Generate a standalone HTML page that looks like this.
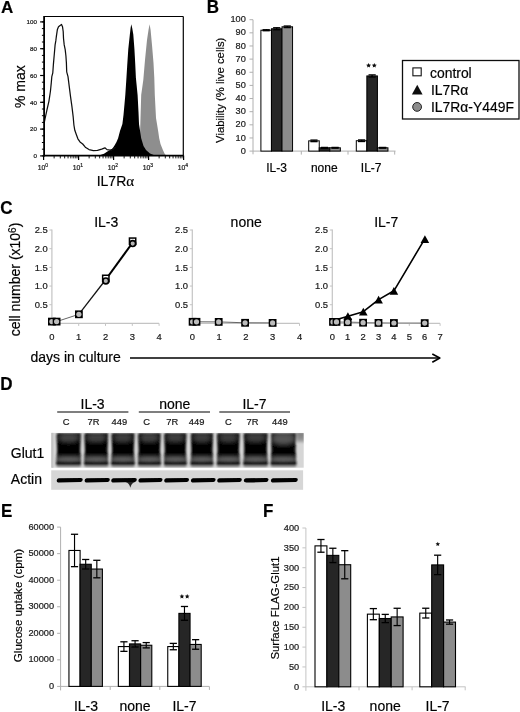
<!DOCTYPE html>
<html><head><meta charset="utf-8"><style>
html,body{margin:0;padding:0;background:#fff;}
body{width:520px;height:712px;overflow:hidden;}
svg{display:block;font-family:"Liberation Sans", sans-serif;}
text{stroke:#111;stroke-width:0.2px;stroke-linejoin:round;}
</style></head><body>
<svg width="520" height="712" viewBox="0 0 520 712">
<defs><filter id="gb" x="0" y="0" width="100%" height="100%"><feGaussianBlur stdDeviation="0.35"/></filter></defs>
<g filter="url(#gb)">
<rect width="520" height="712" fill="#fff"/>
<text x="0.90" y="13.00" font-size="17" text-anchor="start" font-weight="bold" fill="#000" >A</text>
<polygon points="128.00,155.60 136.00,152.00 139.00,146.00 140.00,135.00 140.50,118.00 141.20,95.00 143.30,80.00 145.00,60.00 147.00,40.00 148.50,30.00 149.60,24.20 150.60,30.00 152.00,45.00 153.50,63.00 154.30,78.00 154.80,95.00 156.00,118.00 157.00,124.00 158.30,132.00 159.20,138.30 160.50,144.00 162.80,149.80 164.50,153.50 166.00,155.60" fill="#8e8e8e" stroke="none" stroke-width="1"/>
<polygon points="99.00,155.60 101.00,154.80 104.00,153.80 107.30,151.50 110.00,150.20 112.50,148.50 114.50,145.50 116.50,142.00 118.10,138.30 120.00,131.00 122.40,123.90 123.50,115.00 124.50,104.00 125.30,95.00 126.30,80.00 127.30,64.00 128.30,49.00 129.80,35.00 130.60,28.00 131.30,24.20 132.20,28.00 133.30,34.40 134.40,48.80 135.20,63.30 135.90,77.70 137.60,95.00 138.50,112.00 139.00,123.90 141.20,138.30 143.50,146.00 146.00,150.00 150.00,153.50 155.00,155.60" fill="#000" stroke="none" stroke-width="1"/>
<polyline points="44.30,122.50 45.00,119.00 46.90,110.10 48.90,101.30 50.40,91.50 51.30,82.60 51.80,76.70 52.80,72.80 53.40,64.40 54.40,53.00 55.10,44.90 55.80,40.90 56.40,36.20 57.40,29.40 58.50,26.70 60.10,25.40 61.50,24.40 62.50,26.70 63.20,31.50 63.50,38.20 64.20,44.90 65.20,49.60 65.90,55.70 66.40,63.00 66.70,71.80 68.00,76.70 69.00,84.60 70.50,96.40 72.00,107.20 73.20,117.00 73.90,125.00 74.80,130.30 76.30,134.50 77.90,138.80 80.00,141.90 82.70,144.00 85.30,147.20 89.00,149.60 93.30,150.60 97.50,150.40 101.70,149.10 104.90,147.80 107.00,149.60 110.20,150.20 112.30,149.60 116.00,147.00" fill="none" stroke="#111" stroke-width="1.25" stroke-linejoin="round" />
<line x1="44.10" y1="16.50" x2="183.30" y2="16.50" stroke="#000" stroke-width="1.2" />
<line x1="183.30" y1="16.50" x2="183.30" y2="155.60" stroke="#000" stroke-width="1.2" />
<line x1="44.10" y1="15.90" x2="44.10" y2="156.60" stroke="#000" stroke-width="1.8" />
<line x1="43.20" y1="155.60" x2="183.90" y2="155.60" stroke="#000" stroke-width="1.8" />
<line x1="40.10" y1="155.90" x2="44.10" y2="155.90" stroke="#000" stroke-width="1.2" />
<text x="36.90" y="158.10" font-size="6.2" text-anchor="end" font-weight="normal" fill="#111" >0</text>
<line x1="40.10" y1="129.10" x2="44.10" y2="129.10" stroke="#000" stroke-width="1.2" />
<text x="36.90" y="131.30" font-size="6.2" text-anchor="end" font-weight="normal" fill="#111" >20</text>
<line x1="40.10" y1="102.30" x2="44.10" y2="102.30" stroke="#000" stroke-width="1.2" />
<text x="36.90" y="104.50" font-size="6.2" text-anchor="end" font-weight="normal" fill="#111" >40</text>
<line x1="40.10" y1="75.50" x2="44.10" y2="75.50" stroke="#000" stroke-width="1.2" />
<text x="36.90" y="77.70" font-size="6.2" text-anchor="end" font-weight="normal" fill="#111" >60</text>
<line x1="40.10" y1="48.70" x2="44.10" y2="48.70" stroke="#000" stroke-width="1.2" />
<text x="36.90" y="50.90" font-size="6.2" text-anchor="end" font-weight="normal" fill="#111" >80</text>
<line x1="40.10" y1="21.90" x2="44.10" y2="21.90" stroke="#000" stroke-width="1.2" />
<text x="36.90" y="24.10" font-size="6.2" text-anchor="end" font-weight="normal" fill="#111" >100</text>
<line x1="41.90" y1="155.90" x2="44.10" y2="155.90" stroke="#000" stroke-width="1.0" />
<line x1="41.90" y1="149.20" x2="44.10" y2="149.20" stroke="#000" stroke-width="1.0" />
<line x1="41.90" y1="142.50" x2="44.10" y2="142.50" stroke="#000" stroke-width="1.0" />
<line x1="41.90" y1="135.80" x2="44.10" y2="135.80" stroke="#000" stroke-width="1.0" />
<line x1="41.90" y1="129.10" x2="44.10" y2="129.10" stroke="#000" stroke-width="1.0" />
<line x1="41.90" y1="122.40" x2="44.10" y2="122.40" stroke="#000" stroke-width="1.0" />
<line x1="41.90" y1="115.70" x2="44.10" y2="115.70" stroke="#000" stroke-width="1.0" />
<line x1="41.90" y1="109.00" x2="44.10" y2="109.00" stroke="#000" stroke-width="1.0" />
<line x1="41.90" y1="102.30" x2="44.10" y2="102.30" stroke="#000" stroke-width="1.0" />
<line x1="41.90" y1="95.60" x2="44.10" y2="95.60" stroke="#000" stroke-width="1.0" />
<line x1="41.90" y1="88.90" x2="44.10" y2="88.90" stroke="#000" stroke-width="1.0" />
<line x1="41.90" y1="82.20" x2="44.10" y2="82.20" stroke="#000" stroke-width="1.0" />
<line x1="41.90" y1="75.50" x2="44.10" y2="75.50" stroke="#000" stroke-width="1.0" />
<line x1="41.90" y1="68.80" x2="44.10" y2="68.80" stroke="#000" stroke-width="1.0" />
<line x1="41.90" y1="62.10" x2="44.10" y2="62.10" stroke="#000" stroke-width="1.0" />
<line x1="41.90" y1="55.40" x2="44.10" y2="55.40" stroke="#000" stroke-width="1.0" />
<line x1="41.90" y1="48.70" x2="44.10" y2="48.70" stroke="#000" stroke-width="1.0" />
<line x1="41.90" y1="42.00" x2="44.10" y2="42.00" stroke="#000" stroke-width="1.0" />
<line x1="41.90" y1="35.30" x2="44.10" y2="35.30" stroke="#000" stroke-width="1.0" />
<line x1="41.90" y1="28.60" x2="44.10" y2="28.60" stroke="#000" stroke-width="1.0" />
<line x1="41.90" y1="21.90" x2="44.10" y2="21.90" stroke="#000" stroke-width="1.0" />
<line x1="43.60" y1="155.60" x2="43.60" y2="160.10" stroke="#000" stroke-width="1.2" />
<text x="42.90" y="169.50" font-size="6.8" text-anchor="middle" fill="#222">10<tspan dy="-2.8" font-size="5">0</tspan></text>
<line x1="78.60" y1="155.60" x2="78.60" y2="160.10" stroke="#000" stroke-width="1.2" />
<text x="77.90" y="169.50" font-size="6.8" text-anchor="middle" fill="#222">10<tspan dy="-2.8" font-size="5">1</tspan></text>
<line x1="113.60" y1="155.60" x2="113.60" y2="160.10" stroke="#000" stroke-width="1.2" />
<text x="112.90" y="169.50" font-size="6.8" text-anchor="middle" fill="#222">10<tspan dy="-2.8" font-size="5">2</tspan></text>
<line x1="148.60" y1="155.60" x2="148.60" y2="160.10" stroke="#000" stroke-width="1.2" />
<text x="147.90" y="169.50" font-size="6.8" text-anchor="middle" fill="#222">10<tspan dy="-2.8" font-size="5">3</tspan></text>
<line x1="183.60" y1="155.60" x2="183.60" y2="160.10" stroke="#000" stroke-width="1.2" />
<text x="182.90" y="169.50" font-size="6.8" text-anchor="middle" fill="#222">10<tspan dy="-2.8" font-size="5">4</tspan></text>
<line x1="54.14" y1="155.60" x2="54.14" y2="158.40" stroke="#000" stroke-width="0.9" />
<line x1="60.30" y1="155.60" x2="60.30" y2="158.40" stroke="#000" stroke-width="0.9" />
<line x1="64.67" y1="155.60" x2="64.67" y2="158.40" stroke="#000" stroke-width="0.9" />
<line x1="68.06" y1="155.60" x2="68.06" y2="158.40" stroke="#000" stroke-width="0.9" />
<line x1="70.84" y1="155.60" x2="70.84" y2="158.40" stroke="#000" stroke-width="0.9" />
<line x1="73.18" y1="155.60" x2="73.18" y2="158.40" stroke="#000" stroke-width="0.9" />
<line x1="75.21" y1="155.60" x2="75.21" y2="158.40" stroke="#000" stroke-width="0.9" />
<line x1="77.00" y1="155.60" x2="77.00" y2="158.40" stroke="#000" stroke-width="0.9" />
<line x1="89.14" y1="155.60" x2="89.14" y2="158.40" stroke="#000" stroke-width="0.9" />
<line x1="95.30" y1="155.60" x2="95.30" y2="158.40" stroke="#000" stroke-width="0.9" />
<line x1="99.67" y1="155.60" x2="99.67" y2="158.40" stroke="#000" stroke-width="0.9" />
<line x1="103.06" y1="155.60" x2="103.06" y2="158.40" stroke="#000" stroke-width="0.9" />
<line x1="105.84" y1="155.60" x2="105.84" y2="158.40" stroke="#000" stroke-width="0.9" />
<line x1="108.18" y1="155.60" x2="108.18" y2="158.40" stroke="#000" stroke-width="0.9" />
<line x1="110.21" y1="155.60" x2="110.21" y2="158.40" stroke="#000" stroke-width="0.9" />
<line x1="112.00" y1="155.60" x2="112.00" y2="158.40" stroke="#000" stroke-width="0.9" />
<line x1="124.14" y1="155.60" x2="124.14" y2="158.40" stroke="#000" stroke-width="0.9" />
<line x1="130.30" y1="155.60" x2="130.30" y2="158.40" stroke="#000" stroke-width="0.9" />
<line x1="134.67" y1="155.60" x2="134.67" y2="158.40" stroke="#000" stroke-width="0.9" />
<line x1="138.06" y1="155.60" x2="138.06" y2="158.40" stroke="#000" stroke-width="0.9" />
<line x1="140.84" y1="155.60" x2="140.84" y2="158.40" stroke="#000" stroke-width="0.9" />
<line x1="143.18" y1="155.60" x2="143.18" y2="158.40" stroke="#000" stroke-width="0.9" />
<line x1="145.21" y1="155.60" x2="145.21" y2="158.40" stroke="#000" stroke-width="0.9" />
<line x1="147.00" y1="155.60" x2="147.00" y2="158.40" stroke="#000" stroke-width="0.9" />
<line x1="159.14" y1="155.60" x2="159.14" y2="158.40" stroke="#000" stroke-width="0.9" />
<line x1="165.30" y1="155.60" x2="165.30" y2="158.40" stroke="#000" stroke-width="0.9" />
<line x1="169.67" y1="155.60" x2="169.67" y2="158.40" stroke="#000" stroke-width="0.9" />
<line x1="173.06" y1="155.60" x2="173.06" y2="158.40" stroke="#000" stroke-width="0.9" />
<line x1="175.84" y1="155.60" x2="175.84" y2="158.40" stroke="#000" stroke-width="0.9" />
<line x1="178.18" y1="155.60" x2="178.18" y2="158.40" stroke="#000" stroke-width="0.9" />
<line x1="180.21" y1="155.60" x2="180.21" y2="158.40" stroke="#000" stroke-width="0.9" />
<line x1="182.00" y1="155.60" x2="182.00" y2="158.40" stroke="#000" stroke-width="0.9" />
<text x="96.70" y="185.80" font-size="14" text-anchor="start" font-weight="normal" fill="#000" >IL7R<tspan font-family='Liberation Serif' font-size='15'>&#945;</tspan></text>
<text transform="translate(25.4,86.7) rotate(-90)" font-size="14" text-anchor="middle">% max</text>
<text transform="translate(206.80,13.40) scale(1,1.04)" font-size="17" text-anchor="start" font-weight="bold" fill="#000">B</text>
<line x1="253.00" y1="19.70" x2="253.00" y2="154.30" stroke="#b0b0b0" stroke-width="1" />
<line x1="253.00" y1="151.10" x2="395.50" y2="151.10" stroke="#b0b0b0" stroke-width="1" />
<line x1="249.50" y1="151.10" x2="253.00" y2="151.10" stroke="#b0b0b0" stroke-width="1" />
<text transform="translate(245.80,153.75) scale(1,1)" font-size="9.2" text-anchor="end" font-weight="normal" fill="#222">0</text>
<line x1="249.50" y1="137.96" x2="253.00" y2="137.96" stroke="#b0b0b0" stroke-width="1" />
<text transform="translate(245.80,140.61) scale(1,1)" font-size="9.2" text-anchor="end" font-weight="normal" fill="#222">10</text>
<line x1="249.50" y1="124.82" x2="253.00" y2="124.82" stroke="#b0b0b0" stroke-width="1" />
<text transform="translate(245.80,127.47) scale(1,1)" font-size="9.2" text-anchor="end" font-weight="normal" fill="#222">20</text>
<line x1="249.50" y1="111.68" x2="253.00" y2="111.68" stroke="#b0b0b0" stroke-width="1" />
<text transform="translate(245.80,114.33) scale(1,1)" font-size="9.2" text-anchor="end" font-weight="normal" fill="#222">30</text>
<line x1="249.50" y1="98.54" x2="253.00" y2="98.54" stroke="#b0b0b0" stroke-width="1" />
<text transform="translate(245.80,101.19) scale(1,1)" font-size="9.2" text-anchor="end" font-weight="normal" fill="#222">40</text>
<line x1="249.50" y1="85.40" x2="253.00" y2="85.40" stroke="#b0b0b0" stroke-width="1" />
<text transform="translate(245.80,88.05) scale(1,1)" font-size="9.2" text-anchor="end" font-weight="normal" fill="#222">50</text>
<line x1="249.50" y1="72.26" x2="253.00" y2="72.26" stroke="#b0b0b0" stroke-width="1" />
<text transform="translate(245.80,74.91) scale(1,1)" font-size="9.2" text-anchor="end" font-weight="normal" fill="#222">60</text>
<line x1="249.50" y1="59.12" x2="253.00" y2="59.12" stroke="#b0b0b0" stroke-width="1" />
<text transform="translate(245.80,61.77) scale(1,1)" font-size="9.2" text-anchor="end" font-weight="normal" fill="#222">70</text>
<line x1="249.50" y1="45.98" x2="253.00" y2="45.98" stroke="#b0b0b0" stroke-width="1" />
<text transform="translate(245.80,48.63) scale(1,1)" font-size="9.2" text-anchor="end" font-weight="normal" fill="#222">80</text>
<line x1="249.50" y1="32.84" x2="253.00" y2="32.84" stroke="#b0b0b0" stroke-width="1" />
<text transform="translate(245.80,35.49) scale(1,1)" font-size="9.2" text-anchor="end" font-weight="normal" fill="#222">90</text>
<line x1="249.50" y1="19.70" x2="253.00" y2="19.70" stroke="#b0b0b0" stroke-width="1" />
<text transform="translate(245.80,22.35) scale(1,1)" font-size="9.2" text-anchor="end" font-weight="normal" fill="#222">100</text>
<line x1="301.30" y1="151.10" x2="301.30" y2="154.60" stroke="#b0b0b0" stroke-width="1" />
<line x1="348.00" y1="151.10" x2="348.00" y2="154.60" stroke="#b0b0b0" stroke-width="1" />
<line x1="394.70" y1="151.10" x2="394.70" y2="154.60" stroke="#b0b0b0" stroke-width="1" />
<rect x="260.90" y="30.21" width="10.55" height="120.89" fill="#ffffff" stroke="#000" stroke-width="1"/>
<line x1="262.57" y1="29.69" x2="269.77" y2="29.69" stroke="#000" stroke-width="1.3" />
<line x1="266.17" y1="29.69" x2="266.17" y2="30.74" stroke="#000" stroke-width="1.2" />
<line x1="262.57" y1="30.74" x2="269.77" y2="30.74" stroke="#000" stroke-width="1.3" />
<rect x="271.45" y="28.77" width="10.55" height="122.33" fill="#262626" stroke="#000" stroke-width="1"/>
<line x1="273.12" y1="27.72" x2="280.32" y2="27.72" stroke="#000" stroke-width="1.3" />
<line x1="276.72" y1="27.72" x2="276.72" y2="29.82" stroke="#000" stroke-width="1.2" />
<line x1="273.12" y1="29.82" x2="280.32" y2="29.82" stroke="#000" stroke-width="1.3" />
<rect x="282.00" y="26.80" width="10.55" height="124.30" fill="#8c8c8c" stroke="#000" stroke-width="1"/>
<line x1="283.67" y1="26.01" x2="290.88" y2="26.01" stroke="#000" stroke-width="1.3" />
<line x1="287.27" y1="26.01" x2="287.27" y2="27.58" stroke="#000" stroke-width="1.2" />
<line x1="283.67" y1="27.58" x2="290.88" y2="27.58" stroke="#000" stroke-width="1.3" />
<rect x="308.70" y="140.85" width="10.55" height="10.25" fill="#ffffff" stroke="#000" stroke-width="1"/>
<line x1="310.37" y1="140.06" x2="317.57" y2="140.06" stroke="#000" stroke-width="1.3" />
<line x1="313.97" y1="140.06" x2="313.97" y2="141.64" stroke="#000" stroke-width="1.2" />
<line x1="310.37" y1="141.64" x2="317.57" y2="141.64" stroke="#000" stroke-width="1.3" />
<rect x="319.25" y="147.81" width="10.55" height="3.28" fill="#262626" stroke="#000" stroke-width="1"/>
<line x1="320.92" y1="147.42" x2="328.12" y2="147.42" stroke="#000" stroke-width="1.3" />
<line x1="324.52" y1="147.42" x2="324.52" y2="148.21" stroke="#000" stroke-width="1.2" />
<line x1="320.92" y1="148.21" x2="328.12" y2="148.21" stroke="#000" stroke-width="1.3" />
<rect x="329.80" y="147.81" width="10.55" height="3.28" fill="#8c8c8c" stroke="#000" stroke-width="1"/>
<line x1="331.47" y1="147.42" x2="338.68" y2="147.42" stroke="#000" stroke-width="1.3" />
<line x1="335.07" y1="147.42" x2="335.07" y2="148.21" stroke="#000" stroke-width="1.2" />
<line x1="331.47" y1="148.21" x2="338.68" y2="148.21" stroke="#000" stroke-width="1.3" />
<rect x="356.30" y="140.72" width="10.55" height="10.38" fill="#ffffff" stroke="#000" stroke-width="1"/>
<line x1="357.97" y1="139.93" x2="365.18" y2="139.93" stroke="#000" stroke-width="1.3" />
<line x1="361.57" y1="139.93" x2="361.57" y2="141.51" stroke="#000" stroke-width="1.2" />
<line x1="357.97" y1="141.51" x2="365.18" y2="141.51" stroke="#000" stroke-width="1.3" />
<rect x="366.85" y="75.94" width="10.55" height="75.16" fill="#262626" stroke="#000" stroke-width="1"/>
<line x1="368.52" y1="74.89" x2="375.73" y2="74.89" stroke="#000" stroke-width="1.3" />
<line x1="372.12" y1="74.89" x2="372.12" y2="76.99" stroke="#000" stroke-width="1.2" />
<line x1="368.52" y1="76.99" x2="375.73" y2="76.99" stroke="#000" stroke-width="1.3" />
<rect x="377.40" y="147.81" width="10.55" height="3.28" fill="#8c8c8c" stroke="#000" stroke-width="1"/>
<line x1="379.07" y1="147.42" x2="386.28" y2="147.42" stroke="#000" stroke-width="1.3" />
<line x1="382.68" y1="147.42" x2="382.68" y2="148.21" stroke="#000" stroke-width="1.2" />
<line x1="379.07" y1="148.21" x2="386.28" y2="148.21" stroke="#000" stroke-width="1.3" />
<text x="276.60" y="172.20" font-size="12" text-anchor="middle" font-weight="normal" fill="#000" >IL-3</text>
<text x="324.30" y="172.20" font-size="12" text-anchor="middle" font-weight="normal" fill="#000" >none</text>
<text x="371.20" y="172.20" font-size="12" text-anchor="middle" font-weight="normal" fill="#000" >IL-7</text>
<polygon points="368.60,62.90 369.32,64.51 371.07,64.70 369.76,65.88 370.13,67.60 368.60,66.72 367.07,67.60 367.44,65.88 366.13,64.70 367.88,64.51" fill="#111" stroke="none" stroke-width="1"/>
<polygon points="374.30,62.90 375.02,64.51 376.77,64.70 375.46,65.88 375.83,67.60 374.30,66.72 372.77,67.60 373.14,65.88 371.83,64.70 373.58,64.51" fill="#111" stroke="none" stroke-width="1"/>
<text transform="translate(224.4,90.3) rotate(-90)" font-size="11.3" text-anchor="middle">Viability (% live cells)</text>
<rect x="402.50" y="60.50" width="116.50" height="58.50" fill="none" stroke="#111" stroke-width="1.3"/>
<rect x="412.90" y="67.90" width="8.30" height="7.90" fill="#fff" stroke="#111" stroke-width="1.1"/>
<text x="430.00" y="77.80" font-size="13.9" text-anchor="start" font-weight="normal" fill="#000" >control</text>
<polygon points="411.90,94.40 417.25,84.70 422.60,94.40" fill="#111" stroke="none" stroke-width="1"/>
<text x="431.00" y="94.80" font-size="13.9" text-anchor="start" font-weight="normal" fill="#000" >IL7R&#945;</text>
<circle cx="417.1" cy="106.9" r="4.4" fill="#8c8c8c" stroke="#222" stroke-width="1"/>
<text x="431.00" y="111.80" font-size="13.9" text-anchor="start" font-weight="normal" fill="#000" >IL7R&#945;-Y449F</text>
<text transform="translate(0.35,214.00) scale(1,1.08)" font-size="17" text-anchor="start" font-weight="bold" fill="#000">C</text>
<line x1="51.90" y1="229.52" x2="51.90" y2="323.40" stroke="#c4c4c4" stroke-width="1.2" />
<line x1="51.90" y1="323.40" x2="159.10" y2="323.40" stroke="#c4c4c4" stroke-width="1.2" />
<line x1="49.40" y1="304.72" x2="51.90" y2="304.72" stroke="#c4c4c4" stroke-width="1" />
<text transform="translate(47.70,307.87) scale(1,1)" font-size="9.4" text-anchor="end" font-weight="normal" fill="#222">0.5</text>
<line x1="49.40" y1="286.05" x2="51.90" y2="286.05" stroke="#c4c4c4" stroke-width="1" />
<text transform="translate(47.70,289.20) scale(1,1)" font-size="9.4" text-anchor="end" font-weight="normal" fill="#222">1.0</text>
<line x1="49.40" y1="267.38" x2="51.90" y2="267.38" stroke="#c4c4c4" stroke-width="1" />
<text transform="translate(47.70,270.52) scale(1,1)" font-size="9.4" text-anchor="end" font-weight="normal" fill="#222">1.5</text>
<line x1="49.40" y1="248.70" x2="51.90" y2="248.70" stroke="#c4c4c4" stroke-width="1" />
<text transform="translate(47.70,251.85) scale(1,1)" font-size="9.4" text-anchor="end" font-weight="normal" fill="#222">2.0</text>
<line x1="49.40" y1="230.02" x2="51.90" y2="230.02" stroke="#c4c4c4" stroke-width="1" />
<text transform="translate(47.70,233.17) scale(1,1)" font-size="9.4" text-anchor="end" font-weight="normal" fill="#222">2.5</text>
<line x1="51.90" y1="323.40" x2="51.90" y2="325.90" stroke="#c4c4c4" stroke-width="1" />
<text transform="translate(51.90,339.90) scale(1,1)" font-size="9.4" text-anchor="middle" font-weight="normal" fill="#222">0</text>
<line x1="78.70" y1="323.40" x2="78.70" y2="325.90" stroke="#c4c4c4" stroke-width="1" />
<text transform="translate(78.70,339.90) scale(1,1)" font-size="9.4" text-anchor="middle" font-weight="normal" fill="#222">1</text>
<line x1="105.50" y1="323.40" x2="105.50" y2="325.90" stroke="#c4c4c4" stroke-width="1" />
<text transform="translate(105.50,339.90) scale(1,1)" font-size="9.4" text-anchor="middle" font-weight="normal" fill="#222">2</text>
<line x1="132.30" y1="323.40" x2="132.30" y2="325.90" stroke="#c4c4c4" stroke-width="1" />
<text transform="translate(132.30,339.90) scale(1,1)" font-size="9.4" text-anchor="middle" font-weight="normal" fill="#222">3</text>
<line x1="159.10" y1="323.40" x2="159.10" y2="325.90" stroke="#c4c4c4" stroke-width="1" />
<text transform="translate(159.10,339.90) scale(1,1)" font-size="9.4" text-anchor="middle" font-weight="normal" fill="#222">4</text>
<text x="106.20" y="227.40" font-size="14" text-anchor="middle" font-weight="normal" fill="#000" >IL-3</text>
<line x1="192.30" y1="229.52" x2="192.30" y2="323.40" stroke="#c4c4c4" stroke-width="1.2" />
<line x1="192.30" y1="323.40" x2="299.50" y2="323.40" stroke="#c4c4c4" stroke-width="1.2" />
<line x1="189.80" y1="304.72" x2="192.30" y2="304.72" stroke="#c4c4c4" stroke-width="1" />
<text transform="translate(188.10,307.87) scale(1,1)" font-size="9.4" text-anchor="end" font-weight="normal" fill="#222">0.5</text>
<line x1="189.80" y1="286.05" x2="192.30" y2="286.05" stroke="#c4c4c4" stroke-width="1" />
<text transform="translate(188.10,289.20) scale(1,1)" font-size="9.4" text-anchor="end" font-weight="normal" fill="#222">1.0</text>
<line x1="189.80" y1="267.38" x2="192.30" y2="267.38" stroke="#c4c4c4" stroke-width="1" />
<text transform="translate(188.10,270.52) scale(1,1)" font-size="9.4" text-anchor="end" font-weight="normal" fill="#222">1.5</text>
<line x1="189.80" y1="248.70" x2="192.30" y2="248.70" stroke="#c4c4c4" stroke-width="1" />
<text transform="translate(188.10,251.85) scale(1,1)" font-size="9.4" text-anchor="end" font-weight="normal" fill="#222">2.0</text>
<line x1="189.80" y1="230.02" x2="192.30" y2="230.02" stroke="#c4c4c4" stroke-width="1" />
<text transform="translate(188.10,233.17) scale(1,1)" font-size="9.4" text-anchor="end" font-weight="normal" fill="#222">2.5</text>
<line x1="192.30" y1="323.40" x2="192.30" y2="325.90" stroke="#c4c4c4" stroke-width="1" />
<text transform="translate(192.30,339.90) scale(1,1)" font-size="9.4" text-anchor="middle" font-weight="normal" fill="#222">0</text>
<line x1="219.10" y1="323.40" x2="219.10" y2="325.90" stroke="#c4c4c4" stroke-width="1" />
<text transform="translate(219.10,339.90) scale(1,1)" font-size="9.4" text-anchor="middle" font-weight="normal" fill="#222">1</text>
<line x1="245.90" y1="323.40" x2="245.90" y2="325.90" stroke="#c4c4c4" stroke-width="1" />
<text transform="translate(245.90,339.90) scale(1,1)" font-size="9.4" text-anchor="middle" font-weight="normal" fill="#222">2</text>
<line x1="272.70" y1="323.40" x2="272.70" y2="325.90" stroke="#c4c4c4" stroke-width="1" />
<text transform="translate(272.70,339.90) scale(1,1)" font-size="9.4" text-anchor="middle" font-weight="normal" fill="#222">3</text>
<line x1="299.50" y1="323.40" x2="299.50" y2="325.90" stroke="#c4c4c4" stroke-width="1" />
<text transform="translate(299.50,339.90) scale(1,1)" font-size="9.4" text-anchor="middle" font-weight="normal" fill="#222">4</text>
<text x="246.20" y="227.40" font-size="14" text-anchor="middle" font-weight="normal" fill="#000" >none</text>
<line x1="332.30" y1="229.52" x2="332.30" y2="323.40" stroke="#c4c4c4" stroke-width="1.2" />
<line x1="332.30" y1="323.40" x2="440.10" y2="323.40" stroke="#c4c4c4" stroke-width="1.2" />
<line x1="329.80" y1="304.72" x2="332.30" y2="304.72" stroke="#c4c4c4" stroke-width="1" />
<text transform="translate(328.10,307.87) scale(1,1)" font-size="9.4" text-anchor="end" font-weight="normal" fill="#222">0.5</text>
<line x1="329.80" y1="286.05" x2="332.30" y2="286.05" stroke="#c4c4c4" stroke-width="1" />
<text transform="translate(328.10,289.20) scale(1,1)" font-size="9.4" text-anchor="end" font-weight="normal" fill="#222">1.0</text>
<line x1="329.80" y1="267.38" x2="332.30" y2="267.38" stroke="#c4c4c4" stroke-width="1" />
<text transform="translate(328.10,270.52) scale(1,1)" font-size="9.4" text-anchor="end" font-weight="normal" fill="#222">1.5</text>
<line x1="329.80" y1="248.70" x2="332.30" y2="248.70" stroke="#c4c4c4" stroke-width="1" />
<text transform="translate(328.10,251.85) scale(1,1)" font-size="9.4" text-anchor="end" font-weight="normal" fill="#222">2.0</text>
<line x1="329.80" y1="230.02" x2="332.30" y2="230.02" stroke="#c4c4c4" stroke-width="1" />
<text transform="translate(328.10,233.17) scale(1,1)" font-size="9.4" text-anchor="end" font-weight="normal" fill="#222">2.5</text>
<line x1="332.30" y1="323.40" x2="332.30" y2="325.90" stroke="#c4c4c4" stroke-width="1" />
<text transform="translate(332.30,339.90) scale(1,1)" font-size="9.4" text-anchor="middle" font-weight="normal" fill="#222">0</text>
<line x1="347.70" y1="323.40" x2="347.70" y2="325.90" stroke="#c4c4c4" stroke-width="1" />
<text transform="translate(347.70,339.90) scale(1,1)" font-size="9.4" text-anchor="middle" font-weight="normal" fill="#222">1</text>
<line x1="363.10" y1="323.40" x2="363.10" y2="325.90" stroke="#c4c4c4" stroke-width="1" />
<text transform="translate(363.10,339.90) scale(1,1)" font-size="9.4" text-anchor="middle" font-weight="normal" fill="#222">2</text>
<line x1="378.50" y1="323.40" x2="378.50" y2="325.90" stroke="#c4c4c4" stroke-width="1" />
<text transform="translate(378.50,339.90) scale(1,1)" font-size="9.4" text-anchor="middle" font-weight="normal" fill="#222">3</text>
<line x1="393.90" y1="323.40" x2="393.90" y2="325.90" stroke="#c4c4c4" stroke-width="1" />
<text transform="translate(393.90,339.90) scale(1,1)" font-size="9.4" text-anchor="middle" font-weight="normal" fill="#222">4</text>
<line x1="409.30" y1="323.40" x2="409.30" y2="325.90" stroke="#c4c4c4" stroke-width="1" />
<text transform="translate(409.30,339.90) scale(1,1)" font-size="9.4" text-anchor="middle" font-weight="normal" fill="#222">5</text>
<line x1="424.70" y1="323.40" x2="424.70" y2="325.90" stroke="#c4c4c4" stroke-width="1" />
<text transform="translate(424.70,339.90) scale(1,1)" font-size="9.4" text-anchor="middle" font-weight="normal" fill="#222">6</text>
<line x1="440.10" y1="323.40" x2="440.10" y2="325.90" stroke="#c4c4c4" stroke-width="1" />
<text transform="translate(440.10,339.90) scale(1,1)" font-size="9.4" text-anchor="middle" font-weight="normal" fill="#222">7</text>
<text x="386.20" y="227.40" font-size="14" text-anchor="middle" font-weight="normal" fill="#000" >IL-7</text>
<polyline points="56.60,321.60 78.90,314.30" fill="none" stroke="#666" stroke-width="1" stroke-linejoin="round" />
<polyline points="78.80,314.30 105.80,279.50" fill="none" stroke="#111" stroke-width="1.25" stroke-linejoin="round" />
<polyline points="105.80,279.50 132.70,242.50" fill="none" stroke="#000" stroke-width="2.1" stroke-linejoin="round" />
<rect x="48.00" y="317.70" width="7.80" height="7.80" fill="#000" stroke="none" stroke-width="1"/>
<circle cx="51.90" cy="321.60" r="2.6" fill="#bcbcbc"/>
<rect x="52.70" y="317.70" width="7.80" height="7.80" fill="#000" stroke="none" stroke-width="1"/>
<circle cx="56.60" cy="321.60" r="2.6" fill="#bcbcbc"/>
<rect x="75.00" y="310.40" width="7.80" height="7.80" fill="#000" stroke="none" stroke-width="1"/>
<circle cx="78.90" cy="314.30" r="2.6" fill="#bcbcbc"/>
<rect x="102.65" y="275.25" width="6.30" height="6.30" fill="#fff" stroke="#000" stroke-width="1.5"/>
<rect x="129.45" y="238.05" width="6.30" height="6.30" fill="#fff" stroke="#000" stroke-width="1.5"/>
<circle cx="105.80" cy="280.90" r="2.9" fill="#b4b4b4" stroke="#000" stroke-width="1.7"/>
<circle cx="132.70" cy="243.60" r="2.9" fill="#b4b4b4" stroke="#000" stroke-width="1.7"/>
<polyline points="196.00,321.80 218.70,321.90 245.10,322.80 272.60,322.90" fill="none" stroke="#666" stroke-width="1" stroke-linejoin="round" />
<rect x="188.70" y="317.90" width="7.80" height="7.80" fill="#000" stroke="none" stroke-width="1"/>
<circle cx="192.60" cy="321.80" r="2.6" fill="#bcbcbc"/>
<rect x="192.60" y="317.90" width="7.80" height="7.80" fill="#000" stroke="none" stroke-width="1"/>
<circle cx="196.50" cy="321.80" r="2.6" fill="#bcbcbc"/>
<rect x="214.80" y="318.00" width="7.80" height="7.80" fill="#000" stroke="none" stroke-width="1"/>
<circle cx="218.70" cy="321.90" r="2.6" fill="#bcbcbc"/>
<rect x="241.20" y="318.90" width="7.80" height="7.80" fill="#000" stroke="none" stroke-width="1"/>
<circle cx="245.10" cy="322.80" r="2.6" fill="#bcbcbc"/>
<rect x="268.70" y="319.00" width="7.80" height="7.80" fill="#000" stroke="none" stroke-width="1"/>
<circle cx="272.60" cy="322.90" r="2.6" fill="#bcbcbc"/>
<polyline points="336.00,322.00 347.70,322.20 363.10,322.70 378.50,322.90 393.90,323.00 424.70,323.10" fill="none" stroke="#888" stroke-width="1.2" stroke-linejoin="round" />
<polyline points="333.50,320.50 347.90,316.20 363.30,311.70 378.60,299.60 393.90,290.80 424.80,238.90" fill="none" stroke="#000" stroke-width="1.6" stroke-linejoin="round" />
<polygon points="343.60,320.10 347.90,312.30 352.20,320.10" fill="#000" stroke="none" stroke-width="1"/>
<polygon points="359.00,315.60 363.30,307.80 367.60,315.60" fill="#000" stroke="none" stroke-width="1"/>
<polygon points="374.30,303.50 378.60,295.70 382.90,303.50" fill="#000" stroke="none" stroke-width="1"/>
<polygon points="389.60,294.70 393.90,286.90 398.20,294.70" fill="#000" stroke="none" stroke-width="1"/>
<polygon points="420.60,243.00 424.90,235.20 429.20,243.00" fill="#000" stroke="none" stroke-width="1"/>
<rect x="329.10" y="318.00" width="7.80" height="7.80" fill="#000" stroke="none" stroke-width="1"/>
<circle cx="333.00" cy="321.90" r="2.6" fill="#bcbcbc"/>
<rect x="332.60" y="318.00" width="7.80" height="7.80" fill="#000" stroke="none" stroke-width="1"/>
<circle cx="336.50" cy="321.90" r="2.6" fill="#bcbcbc"/>
<rect x="343.80" y="318.30" width="7.80" height="7.80" fill="#000" stroke="none" stroke-width="1"/>
<circle cx="347.70" cy="322.20" r="2.6" fill="#bcbcbc"/>
<rect x="359.20" y="318.80" width="7.80" height="7.80" fill="#000" stroke="none" stroke-width="1"/>
<circle cx="363.10" cy="322.70" r="2.6" fill="#bcbcbc"/>
<rect x="374.60" y="319.00" width="7.80" height="7.80" fill="#000" stroke="none" stroke-width="1"/>
<circle cx="378.50" cy="322.90" r="2.6" fill="#bcbcbc"/>
<rect x="390.00" y="319.10" width="7.80" height="7.80" fill="#000" stroke="none" stroke-width="1"/>
<circle cx="393.90" cy="323.00" r="2.6" fill="#bcbcbc"/>
<rect x="420.80" y="319.20" width="7.80" height="7.80" fill="#000" stroke="none" stroke-width="1"/>
<circle cx="424.70" cy="323.10" r="2.6" fill="#bcbcbc"/>
<text transform="translate(19.8,279.5) rotate(-90)" font-size="14" text-anchor="middle">cell number (x10<tspan dy="-3.6" font-size="10">6</tspan><tspan dy="3.6">)</tspan></text>
<text x="30.50" y="362.00" font-size="14" text-anchor="start" font-weight="normal" fill="#000" >days in culture</text>
<line x1="130.00" y1="358.00" x2="439.00" y2="358.00" stroke="#000" stroke-width="1.6" />
<polyline points="432.30,354.00 439.80,358.00 432.30,362.20" fill="none" stroke="#000" stroke-width="1.6" stroke-linejoin="round" />
<text transform="translate(0.2,389.6) scale(1,1.09)" font-size="17" font-weight="bold">D</text>
<text x="92.60" y="408.80" font-size="14" text-anchor="middle" font-weight="normal" fill="#000" >IL-3</text>
<line x1="57.20" y1="412.00" x2="128.40" y2="412.00" stroke="#555" stroke-width="1.6" />
<text x="174.80" y="408.80" font-size="14" text-anchor="middle" font-weight="normal" fill="#000" >none</text>
<line x1="138.80" y1="412.00" x2="210.00" y2="412.00" stroke="#555" stroke-width="1.6" />
<text x="254.50" y="408.80" font-size="14" text-anchor="middle" font-weight="normal" fill="#000" >IL-7</text>
<line x1="219.30" y1="412.00" x2="290.00" y2="412.00" stroke="#555" stroke-width="1.6" />
<text transform="translate(66.10,424.80) scale(1,1)" font-size="9.4" text-anchor="middle" font-weight="normal" fill="#222">C</text>
<text transform="translate(93.40,424.80) scale(1,1)" font-size="9.4" text-anchor="middle" font-weight="normal" fill="#222">7R</text>
<text transform="translate(119.40,424.80) scale(1,1)" font-size="9.4" text-anchor="middle" font-weight="normal" fill="#222">449</text>
<text transform="translate(146.60,424.80) scale(1,1)" font-size="9.4" text-anchor="middle" font-weight="normal" fill="#222">C</text>
<text transform="translate(172.20,424.80) scale(1,1)" font-size="9.4" text-anchor="middle" font-weight="normal" fill="#222">7R</text>
<text transform="translate(196.70,424.80) scale(1,1)" font-size="9.4" text-anchor="middle" font-weight="normal" fill="#222">449</text>
<text transform="translate(228.40,424.80) scale(1,1)" font-size="9.4" text-anchor="middle" font-weight="normal" fill="#222">C</text>
<text transform="translate(252.60,424.80) scale(1,1)" font-size="9.4" text-anchor="middle" font-weight="normal" fill="#222">7R</text>
<text transform="translate(279.90,424.80) scale(1,1)" font-size="9.4" text-anchor="middle" font-weight="normal" fill="#222">449</text>
<defs><filter id="bl" x="-10%" y="-10%" width="120%" height="120%"><feGaussianBlur stdDeviation="0.8"/></filter><filter id="bl2" x="-10%" y="-10%" width="120%" height="120%"><feGaussianBlur stdDeviation="0.5"/></filter><filter id="bl3" x="-30%" y="-60%" width="160%" height="220%"><feGaussianBlur stdDeviation="2.2"/></filter><filter id="bl4" x="-30%" y="-60%" width="160%" height="220%"><feGaussianBlur stdDeviation="1.7"/></filter><linearGradient id="lb" x1="0" y1="0" x2="0" y2="1"><stop offset="0" stop-color="#050505"/><stop offset="0.2" stop-color="#222"/><stop offset="0.42" stop-color="#404040"/><stop offset="0.64" stop-color="#585858"/><stop offset="0.86" stop-color="#3a3a3a"/><stop offset="1" stop-color="#0a0a0a"/></linearGradient><linearGradient id="eg" x1="0" y1="0" x2="1" y2="0"><stop offset="0" stop-color="#000" stop-opacity="0.7"/><stop offset="0.15" stop-color="#000" stop-opacity="0"/><stop offset="0.85" stop-color="#000" stop-opacity="0"/><stop offset="1" stop-color="#000" stop-opacity="0.7"/></linearGradient><clipPath id="gc"><rect x="51.0" y="432.9" width="252.7" height="34.8"/></clipPath><linearGradient id="rg9" x1="0" y1="0" x2="0" y2="1"><stop offset="0" stop-color="#7a7a7a"/><stop offset="0.7" stop-color="#959595"/><stop offset="1" stop-color="#c8c8c8"/></linearGradient></defs>
<rect x="51.00" y="432.90" width="252.70" height="34.80" fill="#d6d6d6" stroke="none" stroke-width="1"/>
<rect x="51.60" y="432.90" width="1.80" height="34.80" fill="#c4c4c4" stroke="none" stroke-width="1"/>
<defs><clipPath id="lc0"><path d="M57.60,433 L80.30,433 Q81.00,433.5 80.80,436 Q79.50,450 81.00,465.3 L56.40,465.3 Q57.90,450 56.60,436 Q56.60,433.3 57.60,433 Z"/></clipPath><clipPath id="lc1"><path d="M85.40,433 L107.60,433 Q108.30,433.5 108.10,436 Q106.80,450 108.30,465.3 L84.20,465.3 Q85.70,450 84.40,436 Q84.40,433.3 85.40,433 Z"/></clipPath><clipPath id="lc2"><path d="M112.50,433 L133.90,433 Q134.60,433.5 134.40,436 Q133.10,450 134.60,465.3 L111.30,465.3 Q112.80,450 111.50,436 Q111.50,433.3 112.50,433 Z"/></clipPath><clipPath id="lc3"><path d="M139.10,433 L160.10,433 Q160.80,433.5 160.60,436 Q159.30,450 160.80,465.3 L137.90,465.3 Q139.40,450 138.10,436 Q138.10,433.3 139.10,433 Z"/></clipPath><clipPath id="lc4"><path d="M165.20,433 L185.90,433 Q186.60,433.5 186.40,436 Q185.10,450 186.60,465.3 L164.00,465.3 Q165.50,450 164.20,436 Q164.20,433.3 165.20,433 Z"/></clipPath><clipPath id="lc5"><path d="M191.80,433 L212.60,433 Q213.30,433.5 213.10,436 Q211.80,450 213.30,465.3 L190.60,465.3 Q192.10,450 190.80,436 Q190.80,433.3 191.80,433 Z"/></clipPath><clipPath id="lc6"><path d="M218.00,433 L239.10,433 Q239.80,433.5 239.60,436 Q238.30,450 239.80,465.3 L216.80,465.3 Q218.30,450 217.00,436 Q217.00,433.3 218.00,433 Z"/></clipPath><clipPath id="lc7"><path d="M244.60,433 L267.10,433 Q267.80,433.5 267.60,436 Q266.30,450 267.80,465.3 L243.40,465.3 Q244.90,450 243.60,436 Q243.60,433.3 244.60,433 Z"/></clipPath><clipPath id="lc8"><path d="M271.90,433 L295.60,433 Q296.30,433.5 296.10,436 Q294.80,450 296.30,465.3 L270.70,465.3 Q272.20,450 270.90,436 Q270.90,433.3 271.90,433 Z"/></clipPath></defs>
<g clip-path="url(#gc)"><g filter="url(#bl)">
<rect x="56.90" y="465.0" width="23.60" height="2.7" fill="#a2a2a2"/>
<path d="M57.60,433 L80.30,433 Q81.00,433.5 80.80,436 Q79.50,450 81.00,465.3 L56.40,465.3 Q57.90,450 56.60,436 Q56.60,433.3 57.60,433 Z" fill="#020202"/>
<g clip-path="url(#lc0)"><g filter="url(#bl3)">
<rect x="54.60" y="431" width="28.20" height="2.6" fill="#1c1c1c"/>
<ellipse cx="68.70" cy="438.0" rx="11.13" ry="4.6" fill="#505050" opacity="0.9"/>
</g>
<rect x="54.60" y="453.6" width="28.20" height="9.3" fill="url(#lb)"/>
<g filter="url(#bl4)">
<ellipse cx="68.70" cy="459.3" rx="8.23" ry="2.4" fill="#6a6a6a" opacity="0.5"/>
</g>
<rect x="54.60" y="454" width="28.20" height="12" fill="url(#eg)"/>
<rect x="54.60" y="462.8" width="28.20" height="3" fill="#060606"/>
</g>
<rect x="84.70" y="465.0" width="23.10" height="2.7" fill="#a2a2a2"/>
<path d="M85.40,433 L107.60,433 Q108.30,433.5 108.10,436 Q106.80,450 108.30,465.3 L84.20,465.3 Q85.70,450 84.40,436 Q84.40,433.3 85.40,433 Z" fill="#020202"/>
<g clip-path="url(#lc1)"><g filter="url(#bl3)">
<rect x="82.40" y="431" width="27.70" height="2.6" fill="#1c1c1c"/>
<ellipse cx="96.25" cy="438.0" rx="10.90" ry="4.6" fill="#505050" opacity="0.85"/>
</g>
<rect x="82.40" y="453.6" width="27.70" height="9.3" fill="url(#lb)"/>
<g filter="url(#bl4)">
<ellipse cx="96.25" cy="459.3" rx="8.06" ry="2.4" fill="#6a6a6a" opacity="0.5"/>
</g>
<rect x="82.40" y="454" width="27.70" height="12" fill="url(#eg)"/>
<rect x="82.40" y="462.8" width="27.70" height="3" fill="#060606"/>
</g>
<rect x="111.80" y="465.0" width="22.30" height="2.7" fill="#a2a2a2"/>
<path d="M112.50,433 L133.90,433 Q134.60,433.5 134.40,436 Q133.10,450 134.60,465.3 L111.30,465.3 Q112.80,450 111.50,436 Q111.50,433.3 112.50,433 Z" fill="#020202"/>
<g clip-path="url(#lc2)"><g filter="url(#bl3)">
<rect x="109.50" y="431" width="26.90" height="2.6" fill="#1c1c1c"/>
<ellipse cx="122.95" cy="438.0" rx="10.53" ry="4.6" fill="#505050" opacity="0.8"/>
</g>
<rect x="109.50" y="453.6" width="26.90" height="9.3" fill="url(#lb)"/>
<g filter="url(#bl4)">
<ellipse cx="122.95" cy="459.3" rx="7.79" ry="2.4" fill="#6a6a6a" opacity="0.5"/>
</g>
<rect x="109.50" y="454" width="26.90" height="12" fill="url(#eg)"/>
<rect x="109.50" y="462.8" width="26.90" height="3" fill="#060606"/>
</g>
<rect x="138.40" y="465.0" width="21.90" height="2.7" fill="#a2a2a2"/>
<path d="M139.10,433 L160.10,433 Q160.80,433.5 160.60,436 Q159.30,450 160.80,465.3 L137.90,465.3 Q139.40,450 138.10,436 Q138.10,433.3 139.10,433 Z" fill="#020202"/>
<g clip-path="url(#lc3)"><g filter="url(#bl3)">
<rect x="136.10" y="431" width="26.50" height="2.6" fill="#1c1c1c"/>
<ellipse cx="149.35" cy="438.0" rx="10.35" ry="4.6" fill="#505050" opacity="0.85"/>
</g>
<rect x="136.10" y="453.6" width="26.50" height="9.3" fill="url(#lb)"/>
<g filter="url(#bl4)">
<ellipse cx="149.35" cy="459.3" rx="7.65" ry="2.4" fill="#6a6a6a" opacity="0.5"/>
</g>
<rect x="136.10" y="454" width="26.50" height="12" fill="url(#eg)"/>
<rect x="136.10" y="462.8" width="26.50" height="3" fill="#060606"/>
</g>
<rect x="164.50" y="465.0" width="21.60" height="2.7" fill="#a2a2a2"/>
<path d="M165.20,433 L185.90,433 Q186.60,433.5 186.40,436 Q185.10,450 186.60,465.3 L164.00,465.3 Q165.50,450 164.20,436 Q164.20,433.3 165.20,433 Z" fill="#020202"/>
<g clip-path="url(#lc4)"><g filter="url(#bl3)">
<rect x="162.20" y="431" width="26.20" height="2.6" fill="#1c1c1c"/>
<ellipse cx="175.30" cy="438.0" rx="10.21" ry="4.6" fill="#505050" opacity="0.8"/>
</g>
<rect x="162.20" y="453.6" width="26.20" height="9.3" fill="url(#lb)"/>
<g filter="url(#bl4)">
<ellipse cx="175.30" cy="459.3" rx="7.55" ry="2.4" fill="#6a6a6a" opacity="0.5"/>
</g>
<rect x="162.20" y="454" width="26.20" height="12" fill="url(#eg)"/>
<rect x="162.20" y="462.8" width="26.20" height="3" fill="#060606"/>
</g>
<rect x="191.10" y="465.0" width="21.70" height="2.7" fill="#a2a2a2"/>
<path d="M191.80,433 L212.60,433 Q213.30,433.5 213.10,436 Q211.80,450 213.30,465.3 L190.60,465.3 Q192.10,450 190.80,436 Q190.80,433.3 191.80,433 Z" fill="#020202"/>
<g clip-path="url(#lc5)"><g filter="url(#bl3)">
<rect x="188.80" y="431" width="26.30" height="2.6" fill="#1c1c1c"/>
<ellipse cx="201.95" cy="438.0" rx="10.26" ry="4.6" fill="#505050" opacity="0.8"/>
</g>
<rect x="188.80" y="453.6" width="26.30" height="9.3" fill="url(#lb)"/>
<g filter="url(#bl4)">
<ellipse cx="201.95" cy="459.3" rx="7.58" ry="2.4" fill="#6a6a6a" opacity="0.5"/>
</g>
<rect x="188.80" y="454" width="26.30" height="12" fill="url(#eg)"/>
<rect x="188.80" y="462.8" width="26.30" height="3" fill="#060606"/>
</g>
<rect x="217.30" y="465.0" width="22.00" height="2.7" fill="#a2a2a2"/>
<path d="M218.00,433 L239.10,433 Q239.80,433.5 239.60,436 Q238.30,450 239.80,465.3 L216.80,465.3 Q218.30,450 217.00,436 Q217.00,433.3 218.00,433 Z" fill="#020202"/>
<g clip-path="url(#lc6)"><g filter="url(#bl3)">
<rect x="215.00" y="431" width="26.60" height="2.6" fill="#1c1c1c"/>
<ellipse cx="228.30" cy="438.0" rx="10.40" ry="4.6" fill="#505050" opacity="0.8"/>
</g>
<rect x="215.00" y="453.6" width="26.60" height="9.3" fill="url(#lb)"/>
<g filter="url(#bl4)">
<ellipse cx="228.30" cy="459.3" rx="7.68" ry="2.4" fill="#6a6a6a" opacity="0.5"/>
</g>
<rect x="215.00" y="454" width="26.60" height="12" fill="url(#eg)"/>
<rect x="215.00" y="462.8" width="26.60" height="3" fill="#060606"/>
</g>
<rect x="243.90" y="465.0" width="23.40" height="2.7" fill="#a2a2a2"/>
<path d="M244.60,433 L267.10,433 Q267.80,433.5 267.60,436 Q266.30,450 267.80,465.3 L243.40,465.3 Q244.90,450 243.60,436 Q243.60,433.3 244.60,433 Z" fill="#020202"/>
<g clip-path="url(#lc7)"><g filter="url(#bl3)">
<rect x="241.60" y="431" width="28.00" height="2.6" fill="#1c1c1c"/>
<ellipse cx="255.60" cy="438.0" rx="11.04" ry="4.6" fill="#505050" opacity="0.8"/>
</g>
<rect x="241.60" y="453.6" width="28.00" height="9.3" fill="url(#lb)"/>
<g filter="url(#bl4)">
<ellipse cx="255.60" cy="459.3" rx="8.16" ry="2.4" fill="#6a6a6a" opacity="0.5"/>
</g>
<rect x="241.60" y="454" width="28.00" height="12" fill="url(#eg)"/>
<rect x="241.60" y="462.8" width="28.00" height="3" fill="#060606"/>
</g>
<rect x="271.20" y="465.0" width="24.60" height="2.7" fill="#a2a2a2"/>
<path d="M271.90,433 L295.60,433 Q296.30,433.5 296.10,436 Q294.80,450 296.30,465.3 L270.70,465.3 Q272.20,450 270.90,436 Q270.90,433.3 271.90,433 Z" fill="#020202"/>
<g clip-path="url(#lc8)"><g filter="url(#bl3)">
<rect x="268.90" y="431" width="29.20" height="2.6" fill="#1c1c1c"/>
<ellipse cx="283.50" cy="439.0" rx="12.60" ry="6.2" fill="#5a5a5a" opacity="0.95"/>
</g>
<rect x="268.90" y="453.6" width="29.20" height="9.3" fill="url(#lb)"/>
<g filter="url(#bl4)">
<ellipse cx="283.50" cy="459.3" rx="8.57" ry="2.4" fill="#6a6a6a" opacity="0.5"/>
</g>
<rect x="268.90" y="454" width="29.20" height="12" fill="url(#eg)"/>
<rect x="268.90" y="462.8" width="29.20" height="3" fill="#060606"/>
</g>
<rect x="296.6" y="432.5" width="8" height="10.5" fill="url(#rg9)"/>
</g></g>
<rect x="51.20" y="470.30" width="251.90" height="19.50" fill="#d6d6d6" stroke="none" stroke-width="1"/>
<g filter="url(#bl2)">
<path d="M58.70,478.3 Q69.70,478.0 80.90,478.0 Q83.00,478.2 82.70,479.8 Q82.50,481.9 80.70,482.0 Q69.70,482.4 59.20,482.5 Q56.50,482.3 56.70,480.4 Q56.80,478.5 58.70,478.3 Z" fill="#050505"/>
<path d="M86.60,478.3 Q97.20,478.0 108.00,478.0 Q110.10,478.2 109.80,479.8 Q109.60,481.9 107.80,482.0 Q97.20,482.4 87.10,482.5 Q84.40,482.3 84.60,480.4 Q84.70,478.5 86.60,478.3 Z" fill="#050505"/>
<path d="M113.20,478.3 Q124.00,478.0 135.00,478.0 Q137.10,478.2 136.80,479.8 Q136.60,481.9 134.80,482.0 Q124.00,482.4 113.70,482.5 Q111.00,482.3 111.20,480.4 Q111.30,478.5 113.20,478.3 Z" fill="#050505"/>
<path d="M140.40,478.3 Q150.45,478.0 160.70,478.0 Q162.80,478.2 162.50,479.8 Q162.30,481.9 160.50,482.0 Q150.45,482.4 140.90,482.5 Q138.20,482.3 138.40,480.4 Q138.50,478.5 140.40,478.3 Z" fill="#050505"/>
<path d="M166.20,478.3 Q176.60,478.0 187.20,478.0 Q189.30,478.2 189.00,479.8 Q188.80,481.9 187.00,482.0 Q176.60,482.4 166.70,482.5 Q164.00,482.3 164.20,480.4 Q164.30,478.5 166.20,478.3 Z" fill="#050505"/>
<path d="M192.90,478.3 Q203.25,478.0 213.80,478.0 Q215.90,478.2 215.60,479.8 Q215.40,481.9 213.60,482.0 Q203.25,482.4 193.40,482.5 Q190.70,482.3 190.90,480.4 Q191.00,478.5 192.90,478.3 Z" fill="#050505"/>
<path d="M219.20,478.3 Q229.50,478.0 240.00,478.0 Q242.10,478.2 241.80,479.8 Q241.60,481.9 239.80,482.0 Q229.50,482.4 219.70,482.5 Q217.00,482.3 217.20,480.4 Q217.30,478.5 219.20,478.3 Z" fill="#050505"/>
<path d="M245.80,478.3 Q256.15,478.0 266.70,478.0 Q268.80,478.2 268.50,479.8 Q268.30,481.9 266.50,482.0 Q256.15,482.4 246.30,482.5 Q243.60,482.3 243.80,480.4 Q243.90,478.5 245.80,478.3 Z" fill="#050505"/>
<path d="M272.90,478.3 Q284.35,478.0 296.00,478.0 Q298.10,478.2 297.80,479.8 Q297.60,481.9 295.80,482.0 Q284.35,482.4 273.40,482.5 Q270.70,482.3 270.90,480.4 Q271.00,478.5 272.90,478.3 Z" fill="#050505"/>
<path d="M125.5,482 Q129.5,483 130.3,487.8 Q131.3,483 135,482 Z" fill="#222"/>
</g>
<text x="10.80" y="458.30" font-size="14" text-anchor="start" font-weight="normal" fill="#000" >Glut1</text>
<text x="10.80" y="484.30" font-size="14" text-anchor="start" font-weight="normal" fill="#000" >Actin</text>
<text transform="translate(1.00,517.30) scale(1,1.08)" font-size="17" text-anchor="start" font-weight="bold" fill="#000">E</text>
<line x1="60.60" y1="527.10" x2="60.60" y2="690.40" stroke="#b0b0b0" stroke-width="1" />
<line x1="60.60" y1="686.40" x2="209.20" y2="686.40" stroke="#b0b0b0" stroke-width="1" />
<line x1="57.10" y1="686.40" x2="60.60" y2="686.40" stroke="#b0b0b0" stroke-width="1" />
<text transform="translate(54.00,688.90) scale(1,1)" font-size="9.2" text-anchor="end" font-weight="normal" fill="#222">0</text>
<line x1="57.10" y1="659.85" x2="60.60" y2="659.85" stroke="#b0b0b0" stroke-width="1" />
<text transform="translate(54.00,662.35) scale(1,1)" font-size="9.2" text-anchor="end" font-weight="normal" fill="#222">10000</text>
<line x1="57.10" y1="633.30" x2="60.60" y2="633.30" stroke="#b0b0b0" stroke-width="1" />
<text transform="translate(54.00,635.80) scale(1,1)" font-size="9.2" text-anchor="end" font-weight="normal" fill="#222">20000</text>
<line x1="57.10" y1="606.75" x2="60.60" y2="606.75" stroke="#b0b0b0" stroke-width="1" />
<text transform="translate(54.00,609.25) scale(1,1)" font-size="9.2" text-anchor="end" font-weight="normal" fill="#222">30000</text>
<line x1="57.10" y1="580.20" x2="60.60" y2="580.20" stroke="#b0b0b0" stroke-width="1" />
<text transform="translate(54.00,582.70) scale(1,1)" font-size="9.2" text-anchor="end" font-weight="normal" fill="#222">40000</text>
<line x1="57.10" y1="553.65" x2="60.60" y2="553.65" stroke="#b0b0b0" stroke-width="1" />
<text transform="translate(54.00,556.15) scale(1,1)" font-size="9.2" text-anchor="end" font-weight="normal" fill="#222">50000</text>
<line x1="57.10" y1="527.10" x2="60.60" y2="527.10" stroke="#b0b0b0" stroke-width="1" />
<text transform="translate(54.00,529.60) scale(1,1)" font-size="9.2" text-anchor="end" font-weight="normal" fill="#222">60000</text>
<line x1="110.20" y1="686.40" x2="110.20" y2="689.90" stroke="#b0b0b0" stroke-width="1" />
<line x1="159.80" y1="686.40" x2="159.80" y2="689.90" stroke="#b0b0b0" stroke-width="1" />
<line x1="209.40" y1="686.40" x2="209.40" y2="689.90" stroke="#b0b0b0" stroke-width="1" />
<rect x="68.95" y="550.46" width="11.15" height="135.94" fill="#ffffff" stroke="#000" stroke-width="1.1"/>
<line x1="70.93" y1="534.27" x2="78.12" y2="534.27" stroke="#000" stroke-width="1.3" />
<line x1="74.53" y1="534.27" x2="74.53" y2="566.66" stroke="#000" stroke-width="1.15" />
<line x1="70.93" y1="566.66" x2="78.12" y2="566.66" stroke="#000" stroke-width="1.3" />
<rect x="80.10" y="564.27" width="11.15" height="122.13" fill="#262626" stroke="#000" stroke-width="1.1"/>
<line x1="82.08" y1="559.49" x2="89.28" y2="559.49" stroke="#000" stroke-width="1.3" />
<line x1="85.68" y1="559.49" x2="85.68" y2="569.05" stroke="#000" stroke-width="1.15" />
<line x1="82.08" y1="569.05" x2="89.28" y2="569.05" stroke="#000" stroke-width="1.3" />
<rect x="91.25" y="569.05" width="11.15" height="117.35" fill="#8c8c8c" stroke="#000" stroke-width="1.1"/>
<line x1="93.23" y1="560.29" x2="100.42" y2="560.29" stroke="#000" stroke-width="1.3" />
<line x1="96.83" y1="560.29" x2="96.83" y2="577.81" stroke="#000" stroke-width="1.15" />
<line x1="93.23" y1="577.81" x2="100.42" y2="577.81" stroke="#000" stroke-width="1.3" />
<rect x="118.35" y="646.57" width="11.15" height="39.83" fill="#ffffff" stroke="#000" stroke-width="1.1"/>
<line x1="120.33" y1="641.80" x2="127.52" y2="641.80" stroke="#000" stroke-width="1.3" />
<line x1="123.92" y1="641.80" x2="123.92" y2="651.35" stroke="#000" stroke-width="1.15" />
<line x1="120.33" y1="651.35" x2="127.52" y2="651.35" stroke="#000" stroke-width="1.3" />
<rect x="129.50" y="643.92" width="11.15" height="42.48" fill="#262626" stroke="#000" stroke-width="1.1"/>
<line x1="131.47" y1="640.73" x2="138.67" y2="640.73" stroke="#000" stroke-width="1.3" />
<line x1="135.07" y1="640.73" x2="135.07" y2="647.11" stroke="#000" stroke-width="1.15" />
<line x1="131.47" y1="647.11" x2="138.67" y2="647.11" stroke="#000" stroke-width="1.3" />
<rect x="140.65" y="645.25" width="11.15" height="41.15" fill="#8c8c8c" stroke="#000" stroke-width="1.1"/>
<line x1="142.62" y1="642.59" x2="149.82" y2="642.59" stroke="#000" stroke-width="1.3" />
<line x1="146.22" y1="642.59" x2="146.22" y2="647.90" stroke="#000" stroke-width="1.15" />
<line x1="142.62" y1="647.90" x2="149.82" y2="647.90" stroke="#000" stroke-width="1.3" />
<rect x="167.75" y="646.57" width="11.15" height="39.83" fill="#ffffff" stroke="#000" stroke-width="1.1"/>
<line x1="169.72" y1="643.39" x2="176.92" y2="643.39" stroke="#000" stroke-width="1.3" />
<line x1="173.32" y1="643.39" x2="173.32" y2="649.76" stroke="#000" stroke-width="1.15" />
<line x1="169.72" y1="649.76" x2="176.92" y2="649.76" stroke="#000" stroke-width="1.3" />
<rect x="178.90" y="613.39" width="11.15" height="73.01" fill="#262626" stroke="#000" stroke-width="1.1"/>
<line x1="180.88" y1="606.48" x2="188.07" y2="606.48" stroke="#000" stroke-width="1.3" />
<line x1="184.47" y1="606.48" x2="184.47" y2="620.29" stroke="#000" stroke-width="1.15" />
<line x1="180.88" y1="620.29" x2="188.07" y2="620.29" stroke="#000" stroke-width="1.3" />
<rect x="190.05" y="644.45" width="11.15" height="41.95" fill="#8c8c8c" stroke="#000" stroke-width="1.1"/>
<line x1="192.03" y1="639.67" x2="199.22" y2="639.67" stroke="#000" stroke-width="1.3" />
<line x1="195.62" y1="639.67" x2="195.62" y2="649.23" stroke="#000" stroke-width="1.15" />
<line x1="192.03" y1="649.23" x2="199.22" y2="649.23" stroke="#000" stroke-width="1.3" />
<text x="86.00" y="710.60" font-size="14" text-anchor="middle" font-weight="normal" fill="#000" >IL-3</text>
<text x="135.10" y="710.60" font-size="14" text-anchor="middle" font-weight="normal" fill="#000" >none</text>
<text x="184.50" y="710.60" font-size="14" text-anchor="middle" font-weight="normal" fill="#000" >IL-7</text>
<polygon points="181.90,594.00 182.59,595.55 184.28,595.73 183.02,596.86 183.37,598.52 181.90,597.67 180.43,598.52 180.78,596.86 179.52,595.73 181.21,595.55" fill="#111" stroke="none" stroke-width="1"/>
<polygon points="187.20,594.00 187.89,595.55 189.58,595.73 188.32,596.86 188.67,598.52 187.20,597.67 185.73,598.52 186.08,596.86 184.82,595.73 186.51,595.55" fill="#111" stroke="none" stroke-width="1"/>
<text transform="translate(22.0,605.5) rotate(-90)" font-size="11.6" text-anchor="middle">Glucose uptake (cpm)</text>
<text transform="translate(263.00,516.80) scale(1,1.08)" font-size="17" text-anchor="start" font-weight="bold" fill="#000">F</text>
<line x1="305.90" y1="528.00" x2="305.90" y2="690.80" stroke="#c4c4c4" stroke-width="1" />
<line x1="305.90" y1="686.80" x2="465.50" y2="686.80" stroke="#c4c4c4" stroke-width="1" />
<line x1="302.40" y1="686.80" x2="305.90" y2="686.80" stroke="#c4c4c4" stroke-width="1" />
<text transform="translate(299.20,689.60) scale(1,1)" font-size="9.2" text-anchor="end" font-weight="normal" fill="#222">0</text>
<line x1="302.40" y1="666.95" x2="305.90" y2="666.95" stroke="#c4c4c4" stroke-width="1" />
<text transform="translate(299.20,669.75) scale(1,1)" font-size="9.2" text-anchor="end" font-weight="normal" fill="#222">50</text>
<line x1="302.40" y1="647.10" x2="305.90" y2="647.10" stroke="#c4c4c4" stroke-width="1" />
<text transform="translate(299.20,649.90) scale(1,1)" font-size="9.2" text-anchor="end" font-weight="normal" fill="#222">100</text>
<line x1="302.40" y1="627.25" x2="305.90" y2="627.25" stroke="#c4c4c4" stroke-width="1" />
<text transform="translate(299.20,630.05) scale(1,1)" font-size="9.2" text-anchor="end" font-weight="normal" fill="#222">150</text>
<line x1="302.40" y1="607.40" x2="305.90" y2="607.40" stroke="#c4c4c4" stroke-width="1" />
<text transform="translate(299.20,610.20) scale(1,1)" font-size="9.2" text-anchor="end" font-weight="normal" fill="#222">200</text>
<line x1="302.40" y1="587.55" x2="305.90" y2="587.55" stroke="#c4c4c4" stroke-width="1" />
<text transform="translate(299.20,590.35) scale(1,1)" font-size="9.2" text-anchor="end" font-weight="normal" fill="#222">250</text>
<line x1="302.40" y1="567.70" x2="305.90" y2="567.70" stroke="#c4c4c4" stroke-width="1" />
<text transform="translate(299.20,570.50) scale(1,1)" font-size="9.2" text-anchor="end" font-weight="normal" fill="#222">300</text>
<line x1="302.40" y1="547.85" x2="305.90" y2="547.85" stroke="#c4c4c4" stroke-width="1" />
<text transform="translate(299.20,550.65) scale(1,1)" font-size="9.2" text-anchor="end" font-weight="normal" fill="#222">350</text>
<line x1="302.40" y1="528.00" x2="305.90" y2="528.00" stroke="#c4c4c4" stroke-width="1" />
<text transform="translate(299.20,530.80) scale(1,1)" font-size="9.2" text-anchor="end" font-weight="normal" fill="#222">400</text>
<line x1="359.00" y1="686.80" x2="359.00" y2="690.30" stroke="#c4c4c4" stroke-width="1" />
<line x1="412.10" y1="686.80" x2="412.10" y2="690.30" stroke="#c4c4c4" stroke-width="1" />
<line x1="465.20" y1="686.80" x2="465.20" y2="690.30" stroke="#c4c4c4" stroke-width="1" />
<rect x="315.00" y="545.87" width="11.90" height="140.93" fill="#ffffff" stroke="#000" stroke-width="1.1"/>
<line x1="317.35" y1="539.51" x2="324.55" y2="539.51" stroke="#000" stroke-width="1.3" />
<line x1="320.95" y1="539.51" x2="320.95" y2="552.22" stroke="#000" stroke-width="1.15" />
<line x1="317.35" y1="552.22" x2="324.55" y2="552.22" stroke="#000" stroke-width="1.3" />
<rect x="326.90" y="555.39" width="11.90" height="131.41" fill="#262626" stroke="#000" stroke-width="1.1"/>
<line x1="329.25" y1="548.25" x2="336.45" y2="548.25" stroke="#000" stroke-width="1.3" />
<line x1="332.85" y1="548.25" x2="332.85" y2="562.54" stroke="#000" stroke-width="1.15" />
<line x1="329.25" y1="562.54" x2="336.45" y2="562.54" stroke="#000" stroke-width="1.3" />
<rect x="338.80" y="564.72" width="11.90" height="122.08" fill="#8c8c8c" stroke="#000" stroke-width="1.1"/>
<line x1="341.15" y1="550.67" x2="348.35" y2="550.67" stroke="#000" stroke-width="1.3" />
<line x1="344.75" y1="550.67" x2="344.75" y2="578.78" stroke="#000" stroke-width="1.15" />
<line x1="341.15" y1="578.78" x2="348.35" y2="578.78" stroke="#000" stroke-width="1.3" />
<rect x="367.40" y="614.15" width="11.90" height="72.65" fill="#ffffff" stroke="#000" stroke-width="1.1"/>
<line x1="369.75" y1="608.59" x2="376.95" y2="608.59" stroke="#000" stroke-width="1.3" />
<line x1="373.35" y1="608.59" x2="373.35" y2="619.71" stroke="#000" stroke-width="1.15" />
<line x1="369.75" y1="619.71" x2="376.95" y2="619.71" stroke="#000" stroke-width="1.3" />
<rect x="379.30" y="618.52" width="11.90" height="68.28" fill="#262626" stroke="#000" stroke-width="1.1"/>
<line x1="381.65" y1="614.39" x2="388.85" y2="614.39" stroke="#000" stroke-width="1.3" />
<line x1="385.25" y1="614.39" x2="385.25" y2="622.64" stroke="#000" stroke-width="1.15" />
<line x1="381.65" y1="622.64" x2="388.85" y2="622.64" stroke="#000" stroke-width="1.3" />
<rect x="391.20" y="616.93" width="11.90" height="69.87" fill="#8c8c8c" stroke="#000" stroke-width="1.1"/>
<line x1="393.55" y1="608.27" x2="400.75" y2="608.27" stroke="#000" stroke-width="1.3" />
<line x1="397.15" y1="608.27" x2="397.15" y2="625.58" stroke="#000" stroke-width="1.15" />
<line x1="393.55" y1="625.58" x2="400.75" y2="625.58" stroke="#000" stroke-width="1.3" />
<rect x="419.80" y="613.12" width="11.90" height="73.68" fill="#ffffff" stroke="#000" stroke-width="1.1"/>
<line x1="422.15" y1="608.23" x2="429.35" y2="608.23" stroke="#000" stroke-width="1.3" />
<line x1="425.75" y1="608.23" x2="425.75" y2="618.00" stroke="#000" stroke-width="1.15" />
<line x1="422.15" y1="618.00" x2="429.35" y2="618.00" stroke="#000" stroke-width="1.3" />
<rect x="431.70" y="564.92" width="11.90" height="121.88" fill="#262626" stroke="#000" stroke-width="1.1"/>
<line x1="434.05" y1="555.19" x2="441.25" y2="555.19" stroke="#000" stroke-width="1.3" />
<line x1="437.65" y1="555.19" x2="437.65" y2="574.65" stroke="#000" stroke-width="1.15" />
<line x1="434.05" y1="574.65" x2="441.25" y2="574.65" stroke="#000" stroke-width="1.3" />
<rect x="443.60" y="622.09" width="11.90" height="64.71" fill="#8c8c8c" stroke="#000" stroke-width="1.1"/>
<line x1="445.95" y1="619.98" x2="453.15" y2="619.98" stroke="#000" stroke-width="1.3" />
<line x1="449.55" y1="619.98" x2="449.55" y2="624.19" stroke="#000" stroke-width="1.15" />
<line x1="445.95" y1="624.19" x2="453.15" y2="624.19" stroke="#000" stroke-width="1.3" />
<text x="333.20" y="710.70" font-size="14" text-anchor="middle" font-weight="normal" fill="#000" >IL-3</text>
<text x="385.20" y="710.70" font-size="14" text-anchor="middle" font-weight="normal" fill="#000" >none</text>
<text x="437.60" y="710.70" font-size="14" text-anchor="middle" font-weight="normal" fill="#000" >IL-7</text>
<polygon points="437.80,541.70 438.46,543.19 440.08,543.36 438.87,544.45 439.21,546.04 437.80,545.23 436.39,546.04 436.73,544.45 435.52,543.36 437.14,543.19" fill="#111" stroke="none" stroke-width="1"/>
<text transform="translate(279.2,608) rotate(-90)" font-size="11.4" text-anchor="middle">Surface FLAG-Glut1</text>
</g>
</svg>
</body></html>
